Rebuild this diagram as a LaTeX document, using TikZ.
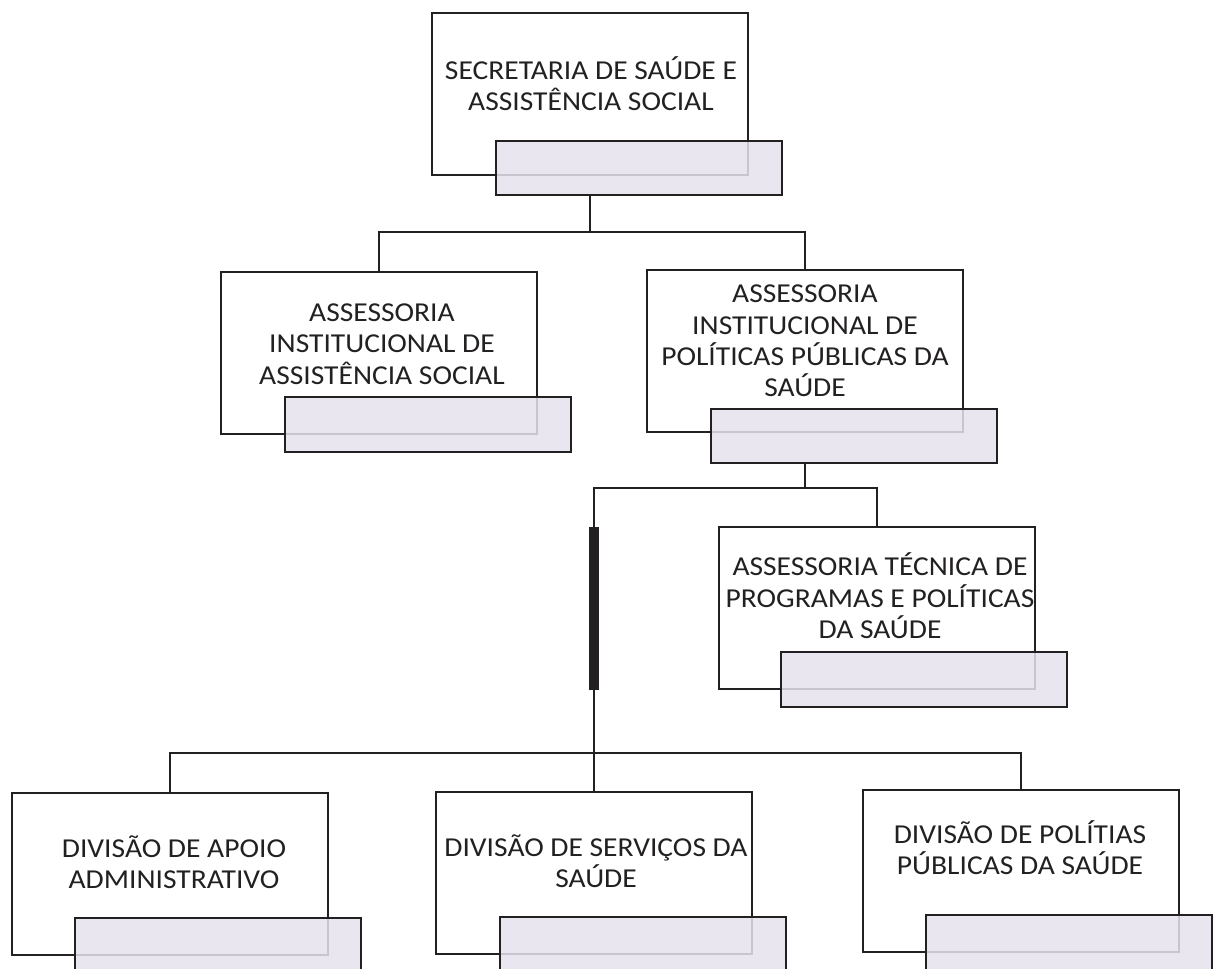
\documentclass[tikz,border=0pt]{standalone}
\usepackage{fontspec}
\setmainfont{Carlito}[FakeStretch=1.08]
\definecolor{ink}{RGB}{35,32,34}
\definecolor{shade}{RGB}{229,226,237}
\begin{document}
\begin{tikzpicture}[x=0.75pt,y=-0.75pt,
    box/.style={shape=rectangle,draw=ink,line width=1.5pt,inner sep=0pt,minimum width=237pt,minimum height=121.5pt},
    subbox/.style={shape=rectangle,draw=ink,line width=1.5pt,fill=shade,fill opacity=0.85,inner sep=0pt,minimum width=214.5pt,minimum height=41pt},
    txt/.style={align=center,text=ink,font=\fontsize{20.5pt}{23.5pt}\selectfont},
    wire/.style={draw=ink,line width=1.5pt}]
    \useasboundingbox (0,0) rectangle (1213,969);
    \node[box] (sec) at (590,94.5) {};
    \node[box] (aias) at (379,353) {};
    \node[box] (aipps) at (805,351.5) {};
    \node[box] (tec) at (876.5,608) {};
    \node[box] (div1) at (169.5,874) {};
    \node[box] (div2) at (594,872.5) {};
    \node[box] (div3) at (1020.5,871) {};
    \node[subbox] (secsub) at (639,168) {};
    \node[subbox] (aiassub) at (428,424.5) {};
    \node[subbox] (aippssub) at (854,436) {};
    \node[subbox] (tecsub) at (924,679.5) {};
    \node[subbox] (div1sub) at (217.5,945.5) {};
    \node[subbox] (div2sub) at (642.5,944.5) {};
    \node[subbox] (div3sub) at (1068.5,942.5) {};
    \node[txt] (sect) at (591,84) {SECRETARIA DE SAÚDE E\\ASSISTÊNCIA SOCIAL};
    \node[txt] (aiast) at (382,344) {ASSESSORIA\\INSTITUCIONAL DE\\ASSISTÊNCIA SOCIAL};
    \node[txt] (aippst) at (805,341) {ASSESSORIA\\INSTITUCIONAL DE\\POLÍTICAS PÚBLICAS DA\\SAÚDE};
    \node[txt] (tect) at (880,596) {ASSESSORIA TÉCNICA DE\\PROGRAMAS E POLÍTICAS\\DA SAÚDE};
    \node[txt] (div1t) at (174,862) {DIVISÃO DE APOIO\\ADMINISTRATIVO};
    \node[txt] (div2t) at (596,861) {DIVISÃO DE SERVIÇOS DA\\SAÚDE};
    \node[txt] (div3t) at (1020,848) {DIVISÃO DE POLÍTIAS\\PÚBLICAS DA SAÚDE};
    \coordinate (bus1) at (590,232);
    \coordinate (bus2) at (805,488);
    \coordinate (bus3) at (594,753);
    \coordinate (bartop) at (594,527);
    \coordinate (barbot) at (594,690);
    \path [wire] (sec.south |- secsub.south) -- (bus1);
    \path [wire] (aias.north) |- (bus1) -| (aipps.north);
    \path [wire] (aipps.south |- aippssub.south) -- (bus2);
    \path [wire] (bus2) -| (tec.north);
    \path [wire] (bus2) -| (bus3);
    \path [wire] (div1.north) |- (bus3) -| (div3.north);
    \path [wire] (bus3) -- (div2.north);
    \draw [ink,line width=7.5pt] (bartop) -- (barbot);
\end{tikzpicture}
\end{document}
